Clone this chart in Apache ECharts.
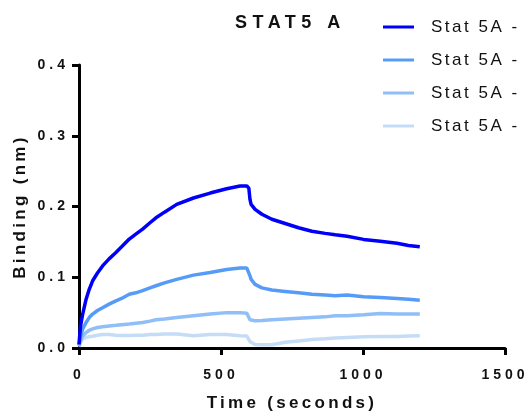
<!DOCTYPE html>
<html>
<head>
<meta charset="utf-8">
<script src="https://cdn.jsdelivr.net/npm/echarts@6/dist/echarts.min.js"></script>
<style>
html,body{margin:0;padding:0;background:#fff;}
#chart{width:526px;height:417px;}
</style>
</head>
<body>
<div id="chart"></div>
<script>
// ---- data ----
const titleText = 'STAT5 A';
const xName = 'Time (seconds)';
const yName = 'Binding (nm)';
const seriesNames = ['Stat 5A - 1', 'Stat 5A - 2', 'Stat 5A - 3', 'Stat 5A - 4'];
const legendLabel = 'Stat 5A -';
const xTicks = [0, 500, 1000, 1500];
const yTicks = [0.0, 0.1, 0.2, 0.3, 0.4];

const times = [0, 5, 13, 25, 36, 48, 65, 83, 106, 130, 150, 177, 200, 224, 250, 271, 301, 344, 403, 462, 520, 567, 591, 598, 602, 606, 620, 644, 679, 726, 773, 820, 867, 902, 944, 1002, 1061, 1120, 1160, 1200];

const stat5a_1 = [0.005, 0.030, 0.048, 0.069, 0.083, 0.095, 0.106, 0.116, 0.126, 0.135, 0.143, 0.154, 0.161, 0.168, 0.177, 0.184, 0.192, 0.203, 0.212, 0.219, 0.225, 0.229, 0.229, 0.226, 0.210, 0.203, 0.196, 0.189, 0.182, 0.176, 0.170, 0.165, 0.162, 0.160, 0.158, 0.1535, 0.151, 0.148, 0.145, 0.143];
const stat5a_2 = [0.004, 0.015, 0.027, 0.036, 0.043, 0.048, 0.053, 0.057, 0.062, 0.0667, 0.070, 0.076, 0.078, 0.081, 0.085, 0.088, 0.092, 0.097, 0.103, 0.1066, 0.111, 0.113, 0.113, 0.111, 0.102, 0.097, 0.090, 0.085, 0.082, 0.080, 0.078, 0.076, 0.075, 0.074, 0.075, 0.0723, 0.0714, 0.070, 0.069, 0.0676];
const stat5a_3 = [0.003, 0.010, 0.017, 0.022, 0.025, 0.027, 0.029, 0.030, 0.031, 0.032, 0.033, 0.034, 0.035, 0.036, 0.038, 0.040, 0.041, 0.043, 0.0455, 0.048, 0.050, 0.050, 0.049, 0.047, 0.040, 0.038, 0.0385, 0.039, 0.040, 0.041, 0.042, 0.043, 0.044, 0.0455, 0.0455, 0.047, 0.0488, 0.048, 0.048, 0.048];
const stat5a_4 = [0.002, 0.008, 0.013, 0.015, 0.016, 0.0165, 0.018, 0.019, 0.019, 0.018, 0.0175, 0.0175, 0.018, 0.018, 0.019, 0.019, 0.0197, 0.0197, 0.0174, 0.019, 0.019, 0.0174, 0.017, 0.015, 0.009, 0.007, 0.005, 0.0047, 0.0047, 0.008, 0.010, 0.012, 0.013, 0.014, 0.015, 0.016, 0.0164, 0.0164, 0.017, 0.0174];

const seriesValues = [stat5a_1, stat5a_2, stat5a_3, stat5a_4];
const colors = ['#0000F8', '#569CF6', '#90BEF6', '#C5DCF7'];

// ---- letter spacing (the reference uses tracked type) ----
(function () {
  const proto = CanvasRenderingContext2D.prototype;
  const orig = proto.fillText;
  proto.fillText = function (text, x, y, mw) {
    const f = this.font || '';
    const bold = /bold|700/.test(f);
    let ls = '0px';
    if (bold && /18px/.test(f)) ls = '5.5px';
    else if (bold && /17px/.test(f)) ls = '3.3px';
    else if (bold && /14px/.test(f)) ls = '4px';
    else if (/17px/.test(f)) ls = '2.5px';
    if ('letterSpacing' in this) this.letterSpacing = ls;
    return mw === undefined ? orig.call(this, text, x, y) : orig.call(this, text, x, y, mw);
  };
})();

const FONT = '"Liberation Sans", Arial, Helvetica, sans-serif';
const chart = echarts.init(document.getElementById('chart'), null, {renderer: 'canvas'});

const option = {
  backgroundColor: '#ffffff',
  animation: false,
  title: {
    text: titleText,
    left: 230,
    top: 9,
    textStyle: {fontFamily: FONT, fontSize: 18, fontWeight: 'bold', color: '#111'}
  },
  legend: {
    orient: 'vertical',
    left: 378,
    top: 12,
    itemWidth: 31,
    itemHeight: 3,
    itemGap: 13,
    icon: 'rect',
    formatter: function () { return legendLabel; },
    textStyle: {fontFamily: FONT, fontSize: 17, color: '#111', lineHeight: 20, padding: [0, 0, 0, 12]},
    data: seriesNames
  },
  grid: {left: 79, right: 21, top: 65, bottom: 68, containLabel: false},
  xAxis: {
    type: 'value',
    min: xTicks[0],
    max: xTicks[xTicks.length - 1],
    interval: xTicks[1] - xTicks[0],
    name: xName,
    nameLocation: 'middle',
    nameGap: 47,
    nameTextStyle: {fontFamily: FONT, fontSize: 17, fontWeight: 'bold', color: '#111'},
    axisLine: {show: true, lineStyle: {color: '#000', width: 3}},
    axisTick: {show: true, length: 7, lineStyle: {color: '#000', width: 3}},
    axisLabel: {fontFamily: FONT, fontSize: 14, fontWeight: 'bold', color: '#111', margin: 20,
      formatter: function (v) { return String(v); }},
    splitLine: {show: false}
  },
  yAxis: {
    type: 'value',
    min: yTicks[0],
    max: yTicks[yTicks.length - 1],
    interval: yTicks[1] - yTicks[0],
    name: yName,
    nameLocation: 'middle',
    nameGap: 50,
    nameTextStyle: {fontFamily: FONT, fontSize: 17, fontWeight: 'bold', color: '#111'},
    axisLine: {show: true, lineStyle: {color: '#000', width: 3}},
    axisTick: {show: true, length: 7, lineStyle: {color: '#000', width: 3}},
    axisLabel: {fontFamily: FONT, fontSize: 14, fontWeight: 'bold', color: '#111', margin: 10,
      formatter: function (v) { return v.toFixed(1); }},
    splitLine: {show: false}
  },
  series: seriesNames.map(function (name, i) {
    return {
      name: name,
      type: 'line',
      showSymbol: false,
      symbol: 'none',
      smooth: false,
      color: colors[i],
      lineStyle: {color: colors[i], width: 3.5},
      data: times.map(function (t, j) { return [t, seriesValues[i][j]]; }),
      z: 10 - i
    };
  })
};
chart.setOption(option);
</script>
</body>
</html>
